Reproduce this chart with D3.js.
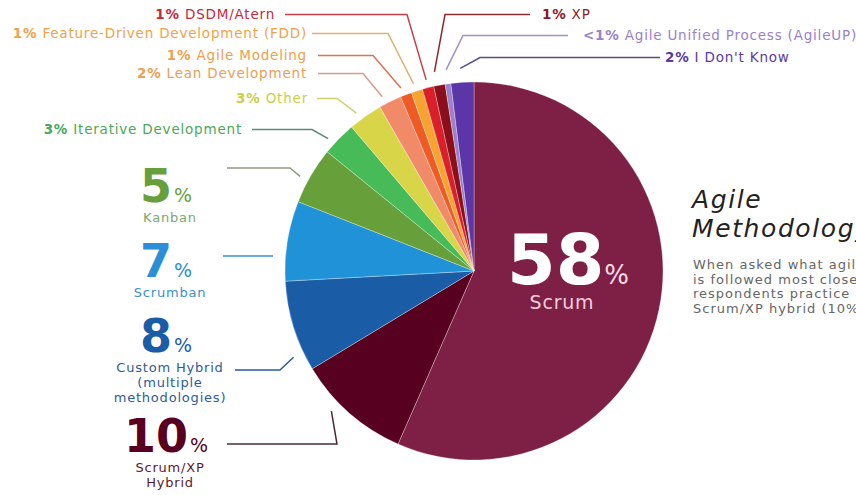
<!DOCTYPE html>
<html>
<head>
<meta charset="utf-8">
<script src="https://cdn.jsdelivr.net/npm/d3@7"></script>
<style>
  body { margin: 0; background: #fff; overflow: hidden; }
  text { font-family: "DejaVu Sans", sans-serif; }
</style>
</head>
<body>
<svg id="chart" width="856" height="495"></svg>
<script>
// methodologies, clockwise from 12 o'clock
var categories = ["Scrum", "Scrum/XP Hybrid", "Custom Hybrid (multiple methodologies)", "Scrumban", "Kanban",
  "Iterative Development", "Other", "Lean Development", "Agile Modeling", "Feature-Driven Development (FDD)",
  "DSDM/Atern", "XP", "Agile Unified Process (AgileUP)", "I Don't Know"];
var values = [58, 10, 8, 7, 5, 3, 3, 2, 1, 1, 1, 1, 0.5, 2];
var valueLabels = ["58", "10", "8", "7", "5", "3%", "3%", "2%", "1%", "1%", "1%", "1%", "<1%", "2%"];
var shortNames = ["Scrum", "Scrum/XP", "Custom Hybrid", "Scrumban", "Kanban", "Iterative Development", "Other",
  "Lean Development", "Agile Modeling", "Feature-Driven Development (FDD)", "DSDM/Atern", "XP",
  "Agile Unified Process (AgileUP)", "I Don't Know"];
var colors = ["#7e1f45", "#58001f", "#1b5ca6", "#1f92d8", "#67a03a", "#46bb58", "#d8d648", "#f18a68",
  "#ee5b25", "#f7a332", "#d81f2a", "#8b0e1b", "#9c80cb", "#5c36a8"];

var svg = d3.select("#chart");
var cx = 474, cy = 271, R = 189;

var pie = d3.pie().sort(null).value(function(d) { return d; });
var arcs = pie(values);
var arc = d3.arc().innerRadius(0).outerRadius(R);

var g = svg.append("g").attr("transform", "translate(" + cx + "," + cy + ")");
g.selectAll("path")
  .data(arcs)
  .enter().append("path")
  .attr("d", arc)
  .attr("fill", function(d, i) { return colors[i]; })
  .attr("stroke", "#fff")
  .attr("stroke-opacity", 0.5)
  .attr("stroke-width", 0.6);

// point on a slice at fraction t of its angle, radius r (page coords)
function slicePoint(i, t, r) {
  var a = arcs[i].startAngle + (arcs[i].endAngle - arcs[i].startAngle) * t;
  return [cx + r * Math.sin(a), cy - r * Math.cos(a)];
}

// small labels around the top
var smallLabels = [
  {i: 10, anchor: "end",   x: 275, y: 19, x0: 285, x1: 407, t: 0.5, r: 197, c: "#c42a3c", lc: "#c8404a"},
  {i: 9,  anchor: "end",   x: 307, y: 38, x0: 312, x1: 388, t: 0.4, r: 197, c: "#f0a24a", lc: "#e0b070"},
  {i: 8,  anchor: "end",   x: 307, y: 60, x0: 318, x1: 373, t: 0.3, r: 197, c: "#f0a04a", lc: "#e07050"},
  {i: 7,  anchor: "end",   x: 307, y: 78, x0: 318, x1: 363, t: 0.3, r: 197, c: "#eba055", lc: "#d89a90"},
  {i: 6,  anchor: "end",   x: 308, y: 103, x0: 317, x1: 337, t: 0.35, r: 197, c: "#c8cf48", lc: "#d0d070"},
  {i: 5,  anchor: "end",   x: 242, y: 134, x0: 252, x1: 312, t: 0.3, r: 197, c: "#4aa85a", lc: "#5a8a78"},
  {i: 11, anchor: "start", x: 542, y: 19, x0: 530, x1: 445, t: 0.3, r: 203, c: "#8b1a2a", lc: "#8a2a30"},
  {i: 12, anchor: "start", x: 583, y: 40, x0: 568, x1: 463, t: 0.5, r: 203, c: "#9a82c8", lc: "#a090c8"},
  {i: 13, anchor: "start", x: 665, y: 62, x0: 660, x1: 480, t: 0.45, r: 203, c: "#5a3aa0", lc: "#5a4a90"}
];

smallLabels.forEach(function(L) {
  var p = slicePoint(L.i, L.t, L.r);
  var ly = L.y - 4.5;
  svg.append("path")
    .attr("d", d3.line()([[L.x0, ly], [L.x1, ly], p]))
    .attr("fill", "none")
    .attr("stroke", L.lc)
    .attr("stroke-width", 1.5);
  var t = svg.append("text")
    .attr("x", L.x).attr("y", L.y)
    .attr("text-anchor", L.anchor)
    .attr("font-size", 13.5)
    .attr("letter-spacing", 0.8)
    .attr("fill", L.c);
  t.append("tspan").attr("font-weight", "bold").text(valueLabels[L.i]);
  t.append("tspan").text(" " + shortNames[L.i]);
});

// big labels on the left
var bigLabels = [
  {i: 4, y: 202, lines: ["Kanban"], c: "#67a03a", sc: "#78a870", lc: "#8a9a80",
    x0: 227, x1: 290, ly: 168, t: 0.4, r: 198},
  {i: 3, y: 277, lines: ["Scrumban"], c: "#2a8fd6", sc: "#3a90d0", lc: "#3a90d0",
    x0: 223, x1: 273, ly: 256, t: null},
  {i: 2, y: 352, lines: ["Custom Hybrid", "(multiple", "methodologies)"], c: "#1b5ca6", sc: "#2d5a9a", lc: "#2a5a9a",
    x0: 235, x1: 280, ly: 370, t: 0.2, r: 200},
  {i: 1, y: 452, lines: ["Scrum/XP", "Hybrid"], c: "#58001f", sc: "#5a1a30", lc: "#4a2a3a",
    x0: 227, x1: 337, ly: 444, t: 0.62, r: 200}
];

bigLabels.forEach(function(L) {
  var pts = [[L.x0, L.ly], [L.x1, L.ly]];
  if (L.t !== null) pts.push(slicePoint(L.i, L.t, L.r));
  svg.append("path")
    .attr("d", d3.line()(pts))
    .attr("fill", "none")
    .attr("stroke", L.lc)
    .attr("stroke-width", 1.5);
  var t = svg.append("text")
    .attr("x", 166).attr("y", L.y)
    .attr("text-anchor", "middle")
    .attr("fill", L.c);
  t.append("tspan").attr("font-size", 46).attr("font-weight", "bold").text(valueLabels[L.i]);
  t.append("tspan").attr("font-size", 19).attr("dx", 2).text("%");
  L.lines.forEach(function(s, k) {
    svg.append("text")
      .attr("x", 170).attr("y", L.y + 20 + k * 15)
      .attr("text-anchor", "middle")
      .attr("font-size", 13)
      .attr("letter-spacing", 0.8)
      .attr("fill", L.sc)
      .text(s);
  });
});

// Scrum inside the pie
var big = svg.append("text")
  .attr("x", 568).attr("y", 284)
  .attr("text-anchor", "middle")
  .attr("fill", "#fff");
big.append("tspan").attr("font-size", 70).attr("font-weight", "bold").text(valueLabels[0]);
big.append("tspan").attr("font-size", 26).attr("fill", "#f6dbe5").text("%");
svg.append("text")
  .attr("x", 562).attr("y", 309)
  .attr("text-anchor", "middle")
  .attr("font-size", 19)
  .attr("letter-spacing", 0.8)
  .attr("fill", "#f2cddb")
  .text(shortNames[0]);

// title and blurb on the right
var title = ["Agile", "Methodology"];
title.forEach(function(s, k) {
  svg.append("text")
    .attr("x", 692).attr("y", 208 + k * 29)
    .attr("font-family", "DejaVu Serif, serif")
    .attr("font-style", "italic")
    .attr("font-size", 25)
    .attr("letter-spacing", 1.6)
    .attr("fill", "#222")
    .text(s);
});
var blurb = ["When asked what agile methodology", "is followed most closely, 58% of",
  "respondents practice Scrum, with a", "Scrum/XP hybrid (10%) next."];
blurb.forEach(function(s, k) {
  svg.append("text")
    .attr("x", 693).attr("y", 269 + k * 14.5)
    .attr("font-size", 13)
    .attr("letter-spacing", 1)
    .attr("fill", "#666")
    .text(s);
});
</script>
</body>
</html>
